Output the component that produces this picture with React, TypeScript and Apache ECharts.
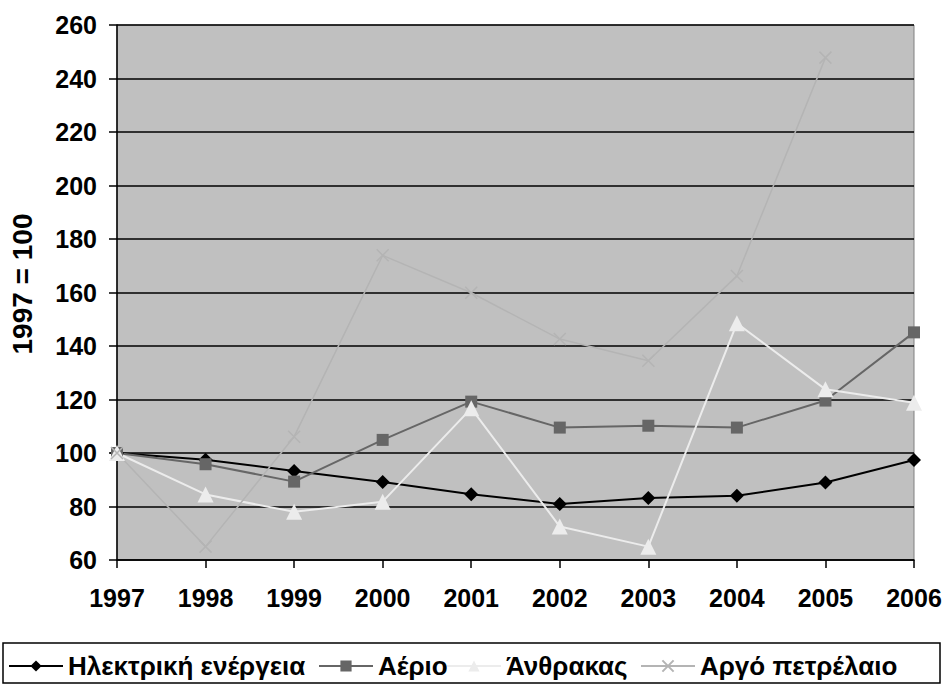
import React, { useEffect, useRef } from "react";
import * as echarts from "echarts";

const years = ["1997", "1998", "1999", "2000", "2001", "2002", "2003", "2004", "2005", "2006"];
const electricity = [100, 97.5, 93.3, 89.2, 84.6, 80.9, 83.2, 84.0, 89.0, 97.4];
const gas = [100, 95.8, 89.3, 104.9, 119.2, 109.5, 110.2, 109.5, 119.6, 145.1];
const coal = [100, 84.5, 78.0, 81.8, 116.7, 72.5, 65.0, 148.5, 123.8, 118.8];
const crudeOil = [100, 65.0, 106.1, 173.9, 159.9, 142.6, 134.5, 166.2, 247.8, null];
const seriesNames = ["Ηλεκτρική ενέργεια", "Αέριο", "Άνθρακας", "Αργό πετρέλαιο"];
const yTicks = { min: 60, max: 260, interval: 20 };
const yTitle = "1997 = 100";

const FONT = "'Liberation Sans', Arial, sans-serif";
const legendLefts = [8, 318, 446, 640];

export default function App() {
  const ref = useRef<HTMLDivElement>(null);
  useEffect(() => {
    if (!ref.current) return;
    const chart = echarts.init(ref.current, undefined, { renderer: "svg" });
    const lineSeries = (name: string, data: any[], color: string, symbol: string, size: number, width: number, extra: any = {}) => ({
      name,
      type: "line",
      data,
      symbol,
      symbolSize: size,
      showSymbol: true,
      connectNulls: false,
      lineStyle: { color, width },
      itemStyle: { color, ...extra },
      emphasis: { disabled: true },
      z: 3,
    });
    chart.setOption({
      animation: false,
      backgroundColor: "#ffffff",
      textStyle: { fontFamily: FONT },
      grid: {
        left: 117,
        right: 31,
        top: 25,
        bottom: 125,
        show: true,
        backgroundColor: "#c0c0c0",
        borderColor: "#808080",
        borderWidth: 1,
      },
      xAxis: {
        type: "category",
        data: years,
        boundaryGap: false,
        axisLine: { show: true, lineStyle: { color: "#000", width: 1.5 } },
        axisTick: { show: true, alignWithLabel: true, length: 8, lineStyle: { color: "#000", width: 1.5 } },
        axisLabel: { color: "#000", fontWeight: "bold", fontSize: 25, fontFamily: FONT, margin: 25 },
        splitLine: { show: false },
      },
      yAxis: {
        type: "value",
        min: yTicks.min,
        max: yTicks.max,
        interval: yTicks.interval,
        axisLine: { show: true, lineStyle: { color: "#000", width: 1.5 } },
        axisTick: { show: true, length: 8, lineStyle: { color: "#000", width: 1.5 } },
        axisLabel: { color: "#000", fontWeight: "bold", fontSize: 25, fontFamily: FONT, margin: 20 },
        splitLine: { show: true, lineStyle: { color: "#000", width: 1.5 } },
      },
      legend: seriesNames.map((n, i) => ({
        left: legendLefts[i],
        top: 653,
        itemWidth: 54,
        itemHeight: 14,
        padding: 0,
        textStyle: { color: "#000", fontWeight: "bold", fontSize: 26, fontFamily: FONT },
        data: [n],
      })),
      graphic: [
        {
          type: "rect",
          shape: { x: 3, y: 643, width: 937, height: 40 },
          style: { fill: "none", stroke: "#000", lineWidth: 1.5 },
          silent: true,
        },
        {
          type: "text",
          x: 22,
          y: 284,
          rotation: Math.PI / 2,
          style: {
            text: yTitle,
            fill: "#000",
            font: `bold 28px ${FONT}`,
            align: "center",
            verticalAlign: "middle",
          },
          silent: true,
        },
      ],
      series: [
        lineSeries(seriesNames[0], electricity, "#000000", "diamond", 14, 2),
        lineSeries(seriesNames[1], gas, "#666666", "rect", 12, 2),
        lineSeries(seriesNames[2], coal, "#ececec", "triangle", 16, 2),
        lineSeries(seriesNames[3], crudeOil, "#b4b4b4", "path://M0,0L10,10M10,0L0,10", 12, 1.5, {
          borderColor: "#b4b4b4",
          borderWidth: 1.5,
        }),
      ],
    });
    return () => chart.dispose();
  }, []);
  return (
    <div
      ref={ref}
      style={{ position: "fixed", left: 0, top: 0, width: 945, height: 685 }}
    />
  );
}
